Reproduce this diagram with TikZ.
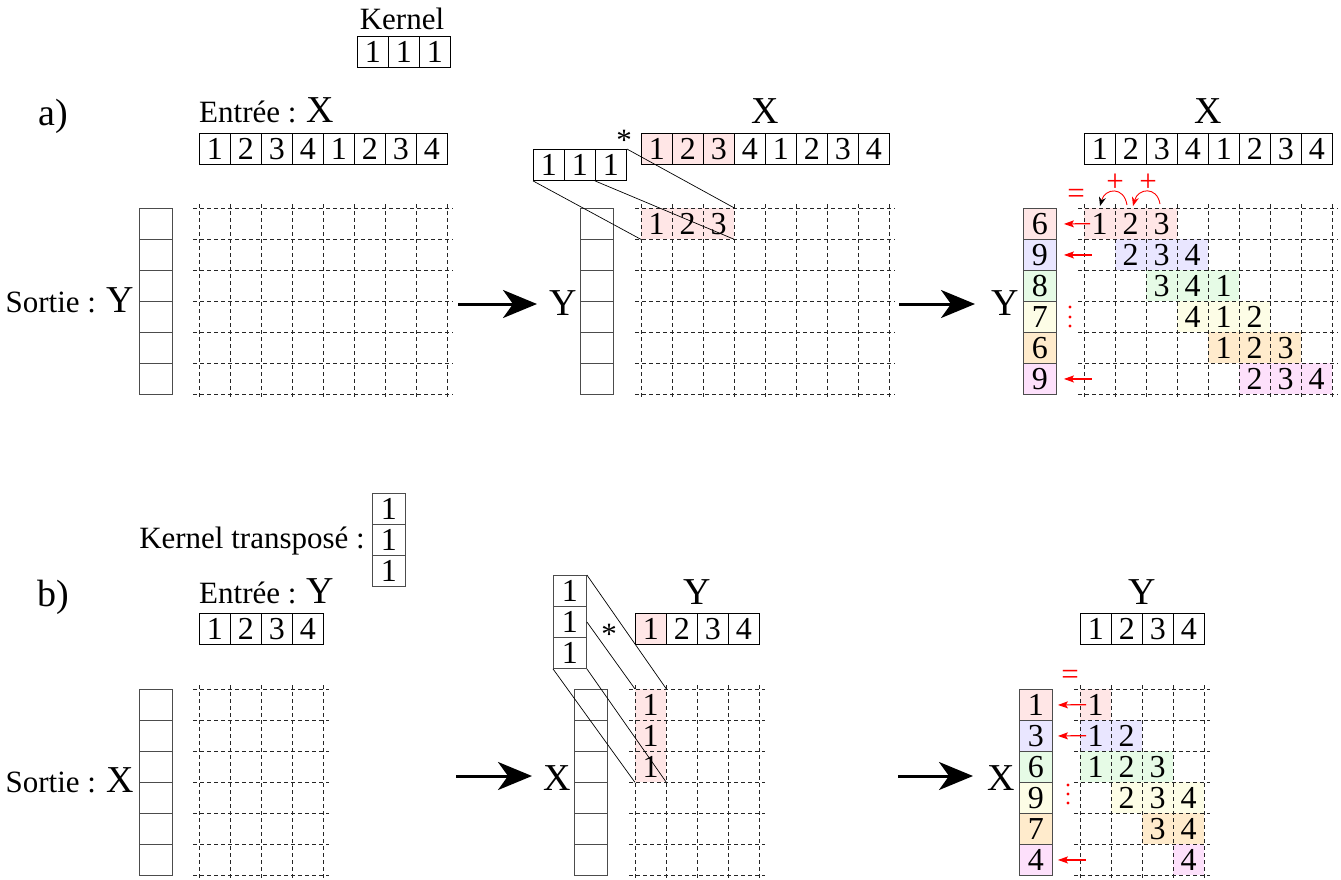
\documentclass[tikz,border=0pt]{standalone}
\usepackage{fontspec}
\setmainfont{Liberation Serif}
\usetikzlibrary{arrows.meta}
\definecolor{cpink}{HTML}{FFE6E6}
\definecolor{cblue}{HTML}{E9E6FF}
\definecolor{cgreen}{HTML}{E6FBE6}
\definecolor{cyel}{HTML}{FDFDE6}
\definecolor{corange}{HTML}{FFEBCC}
\definecolor{cmag}{HTML}{FDE0FB}
\newcommand{\myfd}{\fontsize{32}{38}\selectfont}
\newcommand{\myft}{\fontsize{31}{36}\selectfont}
\newcommand{\myfb}{\fontsize{38}{44}\selectfont}
\newcommand{\hrow}[4]{\foreach \v/\s [count=\i from 0] in {#4} {\node[cell,\s] (#1\i) at ({#2+31*\i},#3) {\v};}}
\newcommand{\vcol}[4]{\foreach \v/\s [count=\i from 0] in {#4} {\node[ccell,\s] (#1\i) at (#2,{#3+31*\i}) {\v};}}
\newcommand{\dgrid}[4]{%
  \foreach \k in {0,...,#4} {\draw[gridline] ({#1-6},{#2+31*\k}) -- ({#1+31*#3+6},{#2+31*\k});}
  \foreach \k in {0,...,#3} {\draw[gridline] ({#1+31*\k},{#2-4}) -- ({#1+31*\k},{#2+31*#4+4});}}
\begin{document}
\begin{tikzpicture}[x=1pt,y=-1pt,
  nf/.style={},
  pk/.style={fill=cpink},
  fbl/.style={fill=cblue},
  fgr/.style={fill=cgreen},
  fye/.style={fill=cyel},
  for/.style={fill=corange},
  fma/.style={fill=cmag},
  cell/.style={draw=black, line width=0.9pt, minimum width=31pt, minimum height=31pt, inner sep=0pt, anchor=north west, font=\myfd},
  ccell/.style={cell, draw=black!70, minimum width=33pt},
  gcell/.style={minimum width=31pt, minimum height=31pt, inner sep=0pt, anchor=north west, font=\myfd},
  gridline/.style={black!85, line width=0.8pt, dash pattern=on 4pt off 3pt},
  txt/.style={font=\myft, inner sep=0pt},
  big/.style={font=\myfb, inner sep=0pt},
  proj/.style={black, line width=0.7pt},
  bigarrow/.style={line width=3pt, -{Stealth[length=34pt,width=28pt,inset=10pt]}},
  redarr/.style={draw=red, line width=1.2pt, -{Stealth[red,length=10pt,width=7pt,inset=2pt]}},
  redtxt/.style={red, font=\myft, inner sep=0pt}
]
\useasboundingbox (0,0) rectangle (1341,879);

% ================= a) =================
\node[txt, anchor=base] (kerlab) at (402,29) {Kernel};
\hrow{ka}{357}{36}{1/nf,1/nf,1/nf}
\node[font=\fontsize{38}{44}\selectfont, inner sep=0pt, anchor=base] (alab) at (53,125) {a)};

% left
\node[txt, anchor=base west] (entA) at (199,122) {Entrée : {\myfb X}};
\hrow{xa}{199}{133}{1/nf,2/nf,3/nf,4/nf,1/nf,2/nf,3/nf,4/nf}
\vcol{ya}{139}{208}{/nf,/nf,/nf,/nf,/nf,/nf}
\dgrid{199}{208}{8}{6}
\node[txt, anchor=base east] (sortA) at (134,312) {Sortie : {\myfb Y}};

\coordinate (a1s) at (458,304);
\coordinate (a1e) at (537,304);
\draw[bigarrow] (a1s) -- (a1e);

% middle
\node[big, anchor=base] (xlabB) at (765,123) {X};
\hrow{xb}{641}{133}{1/pk,2/pk,3/pk,4/nf,1/nf,2/nf,3/nf,4/nf}
\node[txt, anchor=center] (starB) at (624,140) {*};
\hrow{kb}{533}{149}{1/nf,1/nf,1/nf}
\vcol{yb}{580}{208}{/nf,/nf,/nf,/nf,/nf,/nf}
\node[big, anchor=east] (ylabB) at (577,303) {Y};
\foreach \v [count=\j from 0] in {1,2,3} {\node[gcell, fill=cpink] (gb\j) at ({641+31*\j},208) {\v};}
\dgrid{641}{208}{8}{6}
\draw[proj] (kb0.south west) -- (gb0.south west);
\draw[proj] (kb2.south west) -- (gb2.south east);
\draw[proj] (kb2.north east) -- (gb2.north east);

\coordinate (a2s) at (899,304);
\coordinate (a2e) at (975,304);
\draw[bigarrow] (a2s) -- (a2e);

% right
\node[big, anchor=base] (xlabC) at (1208,123) {X};
\hrow{xc}{1084}{133}{1/nf,2/nf,3/nf,4/nf,1/nf,2/nf,3/nf,4/nf}
\vcol{yc}{1023}{208}{6/pk,9/fbl,8/fgr,7/fye,6/for,9/fma}
\node[big, anchor=east] (ylabC) at (1019,303) {Y};
\foreach \r/\cc/\a/\b/\c in {0/cpink/1/2/3,1/cblue/2/3/4,2/cgreen/3/4/1,3/cyel/4/1/2,4/corange/1/2/3,5/cmag/2/3/4}
  {\foreach \v [count=\j from 0] in {\a,\b,\c} {\node[gcell, fill=\cc] (gc\r\j) at ({1084+31*(\r+\j)},{208+31*\r}) {\v};}}
\dgrid{1084}{208}{8}{6}
\draw[redarr] ([xshift=6pt]gc00.west) -- ([xshift=7pt]yc0.east);
\draw[redarr] ([xshift=35pt]yc1.east) -- ([xshift=7pt]yc1.east);
\draw[redarr] ([xshift=35pt]yc5.east) -- ([xshift=7pt]yc5.east);
\foreach \yy in {307,317,326} {\fill[red] (1070,\yy) circle (1.7pt);}
\node[redtxt] (eqC) at (1076,196) {=};
\node[redtxt] (plus1) at (1115,183) {+};
\node[redtxt] (plus2) at (1148,183) {+};
\coordinate (c1s) at (1127,205);
\coordinate (c1e) at (1100,206);
\coordinate (c2s) at (1160,204);
\coordinate (c2e) at (1133,206);
\draw[red, line width=0.9pt, -{Stealth[black,length=9pt,width=7pt]}] (c1s) .. controls (1124,186) and (1105,188) .. (c1e);
\draw[red, line width=0.9pt, -{Stealth[red,length=9pt,width=7pt]}] (c2s) .. controls (1157,186) and (1138,188) .. (c2e);

% ================= b) =================
\node[txt, anchor=base east] (kertlab) at (365,548) {Kernel transposé :};
\vcol{kt}{372}{493}{1/nf,1/nf,1/nf}
\node[font=\fontsize{38}{44}\selectfont, inner sep=0pt, anchor=base] (blab) at (53,606) {b)};

% left
\node[txt, anchor=base west] (entB) at (199,603) {Entrée : {\myfb Y}};
\hrow{yi}{199}{613}{1/nf,2/nf,3/nf,4/nf}
\vcol{xo}{139}{689}{/nf,/nf,/nf,/nf,/nf,/nf}
\dgrid{199}{689}{4}{6}
\node[txt, anchor=base east] (sortB) at (134,792) {Sortie : {\myfb X}};

\coordinate (b1s) at (456,776);
\coordinate (b1e) at (532,776);
\draw[bigarrow] (b1s) -- (b1e);

% middle
\node[big, anchor=base] (ylabD) at (697,604) {Y};
\hrow{yd}{635}{613}{1/pk,2/nf,3/nf,4/nf}
\node[txt, anchor=center] (starD) at (609,634) {*};
\vcol{kd}{553}{575}{1/nf,1/nf,1/nf}
\vcol{xd}{574}{689}{/nf,/nf,/nf,/nf,/nf,/nf}
\node[big, anchor=east] (xlabD) at (571,778) {X};
\foreach \j in {0,1,2} {\node[gcell, fill=cpink] (gd\j) at (635,{689+31*\j}) {1};}
\dgrid{635}{689}{4}{6}
\draw[proj] (kd0.north east) -- (gd0.north east);
\draw[proj] (kd1.east) -- (gd0.north west);
\draw[proj] (kd2.south west) -- (gd2.south west);
\draw[proj] (kd2.south east) -- (gd2.south east);

\coordinate (b2s) at (898,776);
\coordinate (b2e) at (973,776);
\draw[bigarrow] (b2s) -- (b2e);

% right
\node[big, anchor=base] (ylabE) at (1142,604) {Y};
\hrow{ye}{1080}{613}{1/nf,2/nf,3/nf,4/nf}
\vcol{xe}{1019}{689}{1/pk,3/fbl,6/fgr,9/fye,7/for,4/fma}
\node[big, anchor=east] (xlabE) at (1015,778) {X};
\foreach \r/\c/\v/\cc in {0/0/1/cpink,1/0/1/cblue,1/1/2/cblue,2/0/1/cgreen,2/1/2/cgreen,2/2/3/cgreen,3/1/2/cyel,3/2/3/cyel,3/3/4/cyel,4/2/3/corange,4/3/4/corange,5/3/4/cmag}
  {\node[gcell, fill=\cc] (ge\r\c) at ({1080+31*\c},{689+31*\r}) {\v};}
\dgrid{1080}{689}{4}{6}
\draw[redarr] ([xshift=6pt]ge00.west) -- ([xshift=5pt]xe0.east);
\draw[redarr] ([xshift=6pt]ge10.west) -- ([xshift=5pt]xe1.east);
\draw[redarr] ([xshift=33pt]xe5.east) -- ([xshift=5pt]xe5.east);
\foreach \yy in {785,794,803} {\fill[red] (1068,\yy) circle (1.7pt);}
\node[redtxt] (eqE) at (1070,677) {=};
\end{tikzpicture}
\end{document}
